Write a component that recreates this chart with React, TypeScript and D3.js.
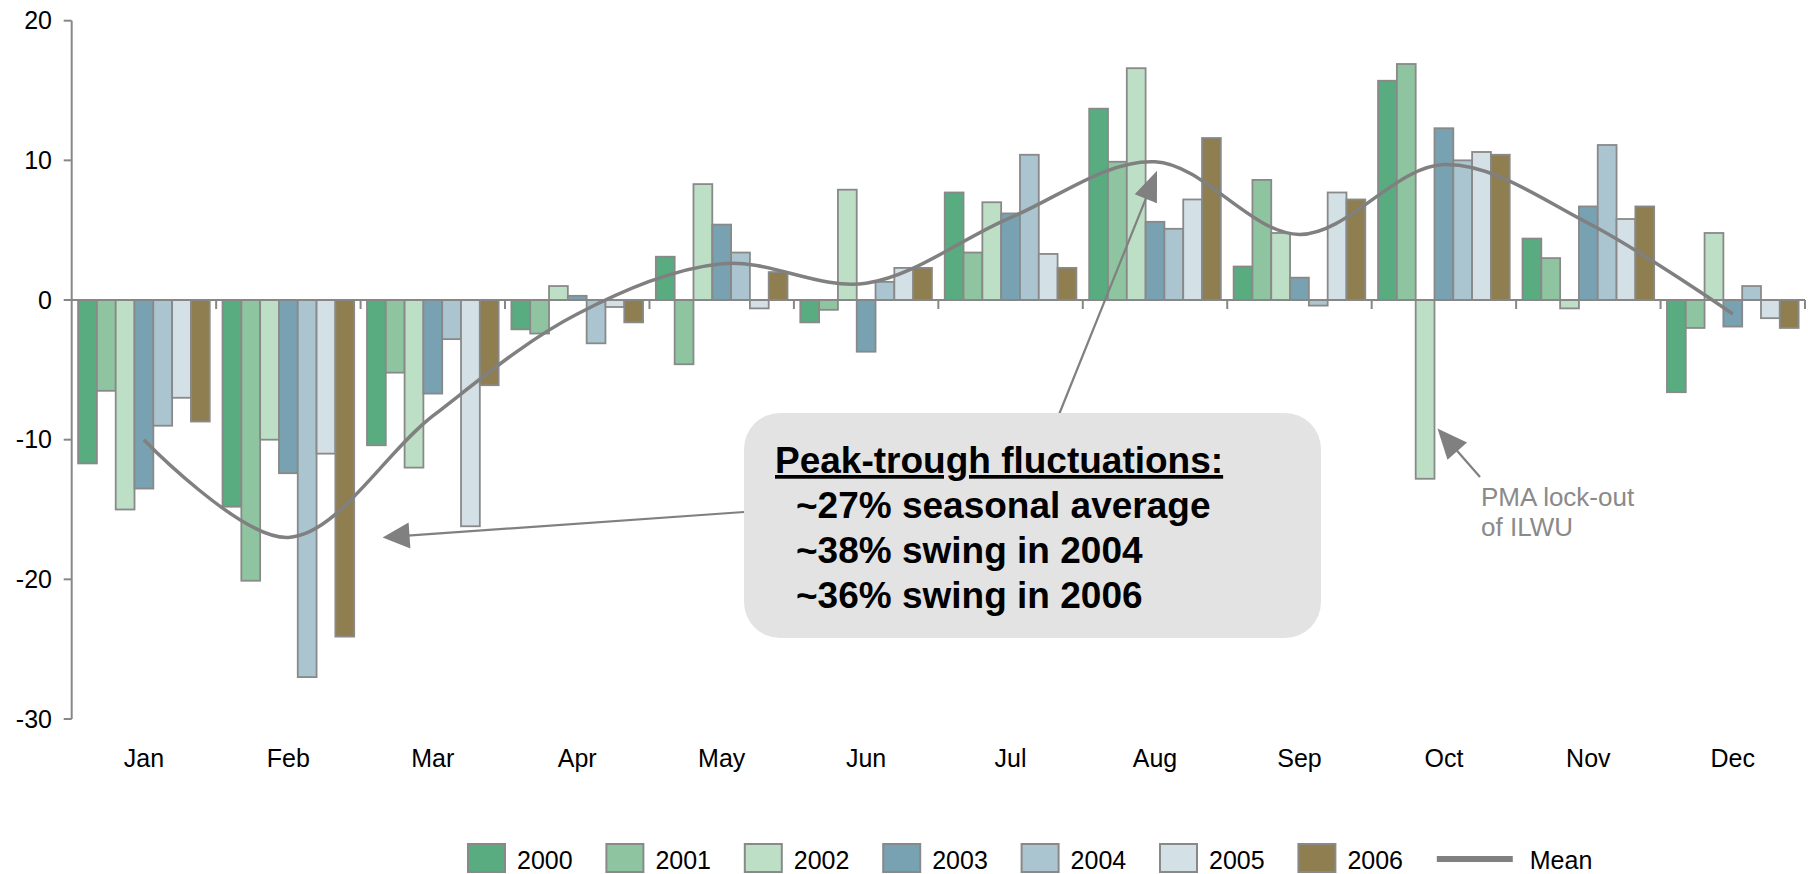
import React from 'react';
import * as d3 from 'd3';

const months = ['Jan', 'Feb', 'Mar', 'Apr', 'May', 'Jun', 'Jul', 'Aug', 'Sep', 'Oct', 'Nov', 'Dec'];
const years = ['2000', '2001', '2002', '2003', '2004', '2005', '2006'];

const v2000 = [-11.7, -14.8, -10.4, -2.1, 3.1, -1.6, 7.7, 13.7, 2.4, 15.7, 4.4, -6.6];
const v2001 = [-6.5, -20.1, -5.2, -2.4, -4.6, -0.7, 3.4, 9.9, 8.6, 16.9, 3.0, -2.0];
const v2002 = [-15.0, -10.0, -12.0, 1.0, 8.3, 7.9, 7.0, 16.6, 4.8, -12.8, -0.6, 4.8];
const v2003 = [-13.5, -12.4, -6.7, 0.3, 5.4, -3.7, 6.2, 5.6, 1.6, 12.3, 6.7, -1.9];
const v2004 = [-9.0, -27.0, -2.8, -3.1, 3.4, 1.3, 10.4, 5.1, -0.4, 10.0, 11.1, 1.0];
const v2005 = [-7.0, -11.0, -16.2, -0.5, -0.6, 2.3, 3.3, 7.2, 7.7, 10.6, 5.8, -1.3];
const v2006 = [-8.7, -24.1, -6.1, -1.6, 2.0, 2.3, 2.3, 11.6, 7.2, 10.4, 6.7, -2.0];
const meanValues = [-10.0, -17.0, -8.3, -1.0, 2.6, 1.2, 5.9, 9.9, 4.7, 9.7, 5.5, -1.0];

const yTicks = [-30, -20, -10, 0, 10, 20];
const colors = ['#58ac80', '#8ec5a0', '#bddfc5', '#78a1b2', '#abc5d0', '#d3e0e6', '#8e7e50'];

const boxLines = ['~27% seasonal average', '~38% swing in 2004', '~36% swing in 2006'];

const W = 1808;
const H = 874;
const FONT = '"Liberation Sans", Arial, Helvetica, sans-serif';
const GRAY = '#878787';

function Arrow({ x1, y1, x2, y2, len, hw }: { x1: number; y1: number; x2: number; y2: number; len: number; hw: number }) {
  const dx = x2 - x1;
  const dy = y2 - y1;
  const d = Math.hypot(dx, dy);
  const ux = dx / d;
  const uy = dy / d;
  const bx = x2 - ux * len;
  const by = y2 - uy * len;
  const nx = -uy;
  const ny = ux;
  const pts = [
    [x2, y2],
    [bx + nx * hw, by + ny * hw],
    [bx - nx * hw, by - ny * hw],
  ];
  return (
    <g>
      <line x1={x1} y1={y1} x2={bx + ux * 2} y2={by + uy * 2} stroke="#808080" strokeWidth={2.2} />
      <polygon points={pts.map((p) => p.join(',')).join(' ')} fill="#808080" />
    </g>
  );
}

export default function App() {
  const series = [v2000, v2001, v2002, v2003, v2004, v2005, v2006];
  const left = 71.7;
  const right = 1805;
  const x = d3.scaleBand<string>().domain(months).range([left, right]).padding(0);
  const xi = d3
    .scaleBand<string>()
    .domain(years)
    .range([0, x.bandwidth()])
    .paddingInner(0)
    .paddingOuter(0.34);
  const y = d3.scaleLinear().domain([-30, 20]).range([719, 20.7]);
  const cx = (m: string) => (x(m) as number) + x.bandwidth() / 2;

  const meanLine = d3
    .line<number>()
    .x((_, i) => cx(months[i]))
    .y((d) => y(d))
    .curve(d3.curveCatmullRom.alpha(0.5));

  const boundaries = months.map((m) => (x(m) as number) + x.bandwidth());

  // annotation anchors derived from scales
  const tip1 = { x: (x('Mar') as number) + 22, y: y(-17) };
  const tip2 = { x: cx('Aug') + 2, y: y(9.25) };
  const tip3 = { x: (x('Oct') as number) + xi('2003')! + 3, y: y(-9.2) };

  const box = { x: 744, y: 413, w: 577, h: 225, r: 36 };

  const legendX0 = 468;
  const legendStep = 138.4;

  return (
    <svg
      width={W}
      height={H}
      style={{ position: 'absolute', left: 0, top: 0, background: '#fff' }}
      fontFamily={FONT}
    >
      <rect x={0} y={0} width={W} height={H} fill="#fff" />

      {/* y axis */}
      <line x1={left} x2={left} y1={y(20)} y2={y(-30)} stroke={GRAY} strokeWidth={2} />
      {yTicks.map((t) => (
        <g key={t}>
          <line x1={left - 8} x2={left} y1={y(t)} y2={y(t)} stroke={GRAY} strokeWidth={2} />
          <text x={52} y={y(t)} dy="0.35em" textAnchor="end" fontSize={25} fill="#000">
            {t}
          </text>
        </g>
      ))}

      {/* bars */}
      {months.map((m, mi) => (
        <g key={m}>
          {years.map((yr, si) => {
            const v = series[si][mi];
            const bx = (x(m) as number) + (xi(yr) as number);
            const y0 = y(0);
            const yv = y(v);
            return (
              <rect
                key={yr}
                x={bx}
                y={Math.min(y0, yv)}
                width={xi.bandwidth()}
                height={Math.abs(yv - y0)}
                fill={colors[si]}
                stroke="#898989"
                strokeWidth={1.8}
              />
            );
          })}
        </g>
      ))}

      {/* x axis */}
      <line x1={left} x2={right} y1={y(0)} y2={y(0)} stroke={GRAY} strokeWidth={2} />
      {boundaries.map((b, i) => (
        <line key={i} x1={b} x2={b} y1={y(0)} y2={y(0) + 9} stroke={GRAY} strokeWidth={2} />
      ))}
      {months.map((m) => (
        <text key={m} x={cx(m)} y={767} textAnchor="middle" fontSize={25} fill="#000">
          {m}
        </text>
      ))}

      {/* mean line */}
      <path d={meanLine(meanValues) || ''} fill="none" stroke="#808080" strokeWidth={3.5} />

      {/* annotation box */}
      <Arrow x1={box.x} y1={512} x2={tip1.x} y2={tip1.y} len={27} hw={13} />
      <Arrow x1={1058} y1={box.y + 4} x2={tip2.x} y2={tip2.y} len={30} hw={12} />
      <rect x={box.x} y={box.y} width={box.w} height={box.h} rx={box.r} ry={box.r} fill="#e3e3e3" />
      <text x={775} y={473} fontSize={37} fontWeight="bold" fill="#000" textDecoration="underline">
        Peak-trough fluctuations:
      </text>
      {boxLines.map((t, i) => (
        <text key={t} x={796} y={518 + i * 45} fontSize={37} fontWeight="bold" fill="#000">
          {t}
        </text>
      ))}

      {/* PMA annotation */}
      <Arrow x1={1480} y1={477} x2={tip3.x} y2={tip3.y} len={30} hw={13} />
      <text x={1481} y={506} fontSize={26} fill="#8a8a8a">
        PMA lock-out
      </text>
      <text x={1481} y={536} fontSize={26} fill="#8a8a8a">
        of ILWU
      </text>

      {/* legend */}
      {years.map((yr, i) => {
        const lx = legendX0 + i * legendStep;
        return (
          <g key={yr}>
            <rect x={lx} y={844} width={37} height={28} fill={colors[i]} stroke="#898989" strokeWidth={2} />
            <text x={lx + 49} y={869} fontSize={25} fill="#000">
              {yr}
            </text>
          </g>
        );
      })}
      <line
        x1={legendX0 + 7 * legendStep}
        x2={legendX0 + 7 * legendStep + 76}
        y1={859}
        y2={859}
        stroke="#808080"
        strokeWidth={6}
      />
      <text x={legendX0 + 7 * legendStep + 93} y={869} fontSize={25} fill="#000">
        Mean
      </text>
    </svg>
  );
}
